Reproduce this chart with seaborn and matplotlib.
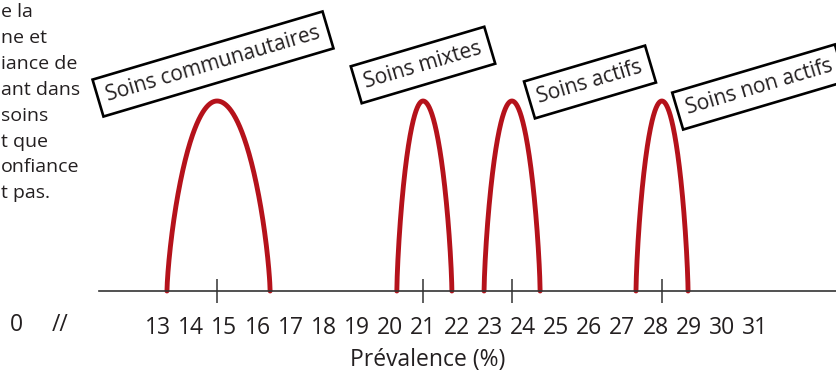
import numpy as np
import matplotlib
matplotlib.use("Agg")
import matplotlib.pyplot as plt
import seaborn as sns
import pandas as pd

# ---- data ----
groups = ["Soins communautaires", "Soins mixtes", "Soins actifs", "Soins non actifs"]
estimates = [14.78, 20.99, 23.67, 28.19]
ci_low = [13.27, 20.20, 22.83, 27.41]
ci_high = [16.38, 21.86, 24.52, 28.98]
tick_values = list(range(13, 32))
tick_labels = [str(v) for v in tick_values]
side_text = ["e la", "ne et", "iance de", "ant dans", "soins", "t que", "onfiance", "t pas."]
xlabel = "Prévalence (%)"

W, H = 837, 374
RED = "#B5121B"
INK = "#231f20"

sns.set_theme(style="white")
plt.rcParams["font.family"] = ["Open Sans", "DejaVu Sans"]

fig = plt.figure(figsize=(W / 100, H / 100), dpi=100)
ax = fig.add_axes([0, 0, 1, 1])

# pixel <-> data mapping used for placement
PX_PER_UNIT = 33.17
X0_PX = 158.0  # where 13 sits
def px2x(px):
    return 13 + (px - X0_PX) / PX_PER_UNIT
BASE_PX, PEAK_PX = 291.0, 101.0
def py2y(py):
    return (BASE_PX - py) / (BASE_PX - PEAK_PX)

ax.set_xlim(px2x(0), px2x(W))
ax.set_ylim(py2y(H), py2y(0))

# arch curves built from estimate and confidence interval
rows = []
for g, est, lo, hi in zip(groups, estimates, ci_low, ci_high):
    xs = np.linspace(lo, hi, 300)
    u = np.where(xs < est, (est - xs) / (est - lo), (xs - est) / (hi - est))
    ys = np.clip(1 - u ** 2, 0, None) ** 0.72
    for x, y in zip(xs, ys):
        rows.append((g, x, y))
df = pd.DataFrame(rows, columns=["group", "x", "y"])
sns.lineplot(data=df, x="x", y="y", units="group", estimator=None, sort=False,
             color=RED, linewidth=3.5, ax=ax, legend=False)

# axis
for s in ["top", "right", "left"]:
    ax.spines[s].set_visible(False)
ax.spines["bottom"].set_position(("data", 0))
ax.spines["bottom"].set_bounds(px2x(99), px2x(W))
ax.spines["bottom"].set_color("#333333")
ax.spines["bottom"].set_linewidth(1.2)
ax.set_yticks([])
ax.set_xticks(tick_values)
ax.set_xticklabels(tick_labels, fontsize=16.5, color=INK)
ax.tick_params(axis="x", which="major", bottom=True, length=0, pad=18)
ax.set_xticks(estimates, minor=True)
ax.tick_params(axis="x", which="minor", bottom=True, direction="inout", length=17,
               width=1.1, color="#333333")
ax.set_xlabel(xlabel, fontsize=16.5, color=INK)
ax.xaxis.set_label_coords(428 / W, 1 - 348 / H)
ax.set_ylabel("")

# "0" and break mark
ax.text(16 / W, 1 - 325 / H, "0", transform=ax.transAxes, fontsize=16.5,
        color=INK, ha="center", va="center")
ax.text(60 / W, 1 - 325 / H, "//", transform=ax.transAxes, fontsize=16.5,
        color=INK, ha="center", va="center")

# rotated labelled boxes
box_centers = [(213, 64), (423, 65), (590, 82), (759, 87)]
for g, (cx, cy) in zip(groups, box_centers):
    ax.text(px2x(cx), py2y(cy), g, rotation=16.5, rotation_mode="anchor",
            ha="center", va="center", fontsize=15, color=INK,
            bbox=dict(boxstyle="square,pad=0.42", fc="white", ec="black", lw=1.9))

# clipped side text
for i, t in enumerate(side_text):
    ax.text(1 / W, 1 - (12 + 25.9 * i) / H, t, transform=ax.transAxes,
            fontsize=14, color=INK, ha="left", va="center")

fig.savefig("out.png", dpi=100)
